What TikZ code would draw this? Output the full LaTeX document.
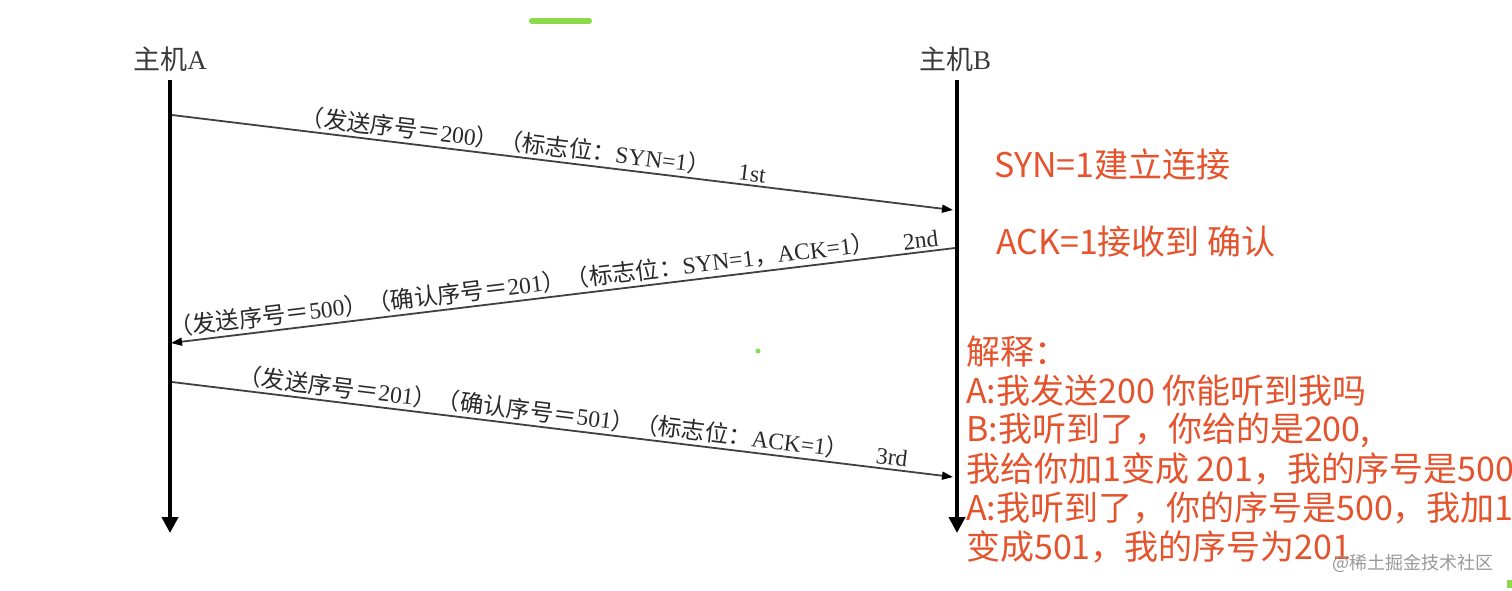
\documentclass[tikz,border=0pt]{standalone}
\usepackage{fontspec}
\setmainfont{Liberation Serif}
\newfontfamily\cjk{Noto Sans CJK SC}
\usetikzlibrary{arrows.meta}
\definecolor{redtxt}{HTML}{E5532D}
\definecolor{labc}{HTML}{2A2A2A}
\definecolor{headc}{HTML}{3A3A3A}
\definecolor{grn}{HTML}{8CD94C}
\definecolor{msgc}{HTML}{404040}
\newcommand\zhtxt[1]{{\cjk #1}}
\begin{document}
\begin{tikzpicture}[x=1pt,y=-1pt,
  life/.style={line width=4pt,-{Triangle[length=16pt,width=16pt]}},
  msg/.style={draw=msgc,line width=1.8pt,-{Triangle[length=11pt,width=8pt,color=black]}},
  lbl/.style={text=labc,font=\fontsize{23.5}{23.5}\selectfont,inner sep=1pt,sloped,above=2pt},
  headlbl/.style={text=headc,font=\fontsize{27}{27}\selectfont,inner sep=0pt},
  redline/.style={text=redtxt,font=\cjk\fontsize{34}{34}\selectfont,anchor=west,inner sep=0pt}
]
\useasboundingbox (0,0) rectangle (1512,590);
\clip (0,0) rectangle (1512,590);
\fill[white] (0,0) rectangle (1512,590);

% decorations
\draw[grn,line width=6pt,line cap=round] (532,21) -- (589,21);
\fill[grn] (758,351) circle (2.5pt);
\fill[grn] (1507,580) rectangle (1512,588);

% hosts
\node[headlbl] (ha) at (170,59) {\zhtxt{主机}A};
\node[headlbl] (hb) at (955,59) {\zhtxt{主机}B};

% lifelines
\coordinate (a0) at (170,80);
\coordinate (a1) at (170,533);
\coordinate (b0) at (957,80);
\coordinate (b1) at (957,533);
\draw[life] (a0) -- (a1);
\draw[life] (b0) -- (b1);

% message endpoints
\coordinate (m1s) at (172,115);
\coordinate (m1e) at (953,210);
\coordinate (m2s) at (955,248);
\coordinate (m2e) at (171,343);
\coordinate (m3s) at (172,382);
\coordinate (m3e) at (953,477);

\draw[msg] (m1s) -- (m1e)
  node[lbl,pos=.425] {\zhtxt{（发送序号＝}200\zhtxt{）（标志位：}SYN=1\zhtxt{）}}
  node[lbl,pos=.741] {1st};
\draw[msg] (m2s) -- (m2e)
  node[lbl,pos=.55] {\zhtxt{（发送序号＝}500\zhtxt{）（确认序号＝}201\zhtxt{）（标志位：}SYN=1\zhtxt{，}ACK=1\zhtxt{）}}
  node[lbl,pos=.042] {2nd};
\draw[msg] (m3s) -- (m3e)
  node[lbl,pos=.474] {\zhtxt{（发送序号＝}201\zhtxt{）（确认序号＝}501\zhtxt{）（标志位：}ACK=1\zhtxt{）}}
  node[lbl,pos=.92] {3rd};

% red notes
\node[redline] (n1) at (994,165) {SYN=1建立连接};
\node[redline] (n2) at (996,242) {ACK=1接收到 确认};
\node[redline] (e1) at (966,352) {解释：};
\node[redline] (e2) at (966,391) {A:我发送200 你能听到我吗};
\node[redline] (e3) at (966,430) {B:我听到了，你给的是200,};
\node[redline] (e4) at (966,469) {我给你加1变成 201，我的序号是500};
\node[redline] (e5) at (966,508) {A:我听到了，你的序号是500，我加1};
\node[redline] (e6) at (966,547) {变成501，我的序号为201};

% watermark
\node[text=black!40,font=\cjk\fontsize{18}{18}\selectfont,anchor=east,inner sep=0pt] (wm) at (1494,563) {@稀土掘金技术社区};
\end{tikzpicture}
\end{document}
